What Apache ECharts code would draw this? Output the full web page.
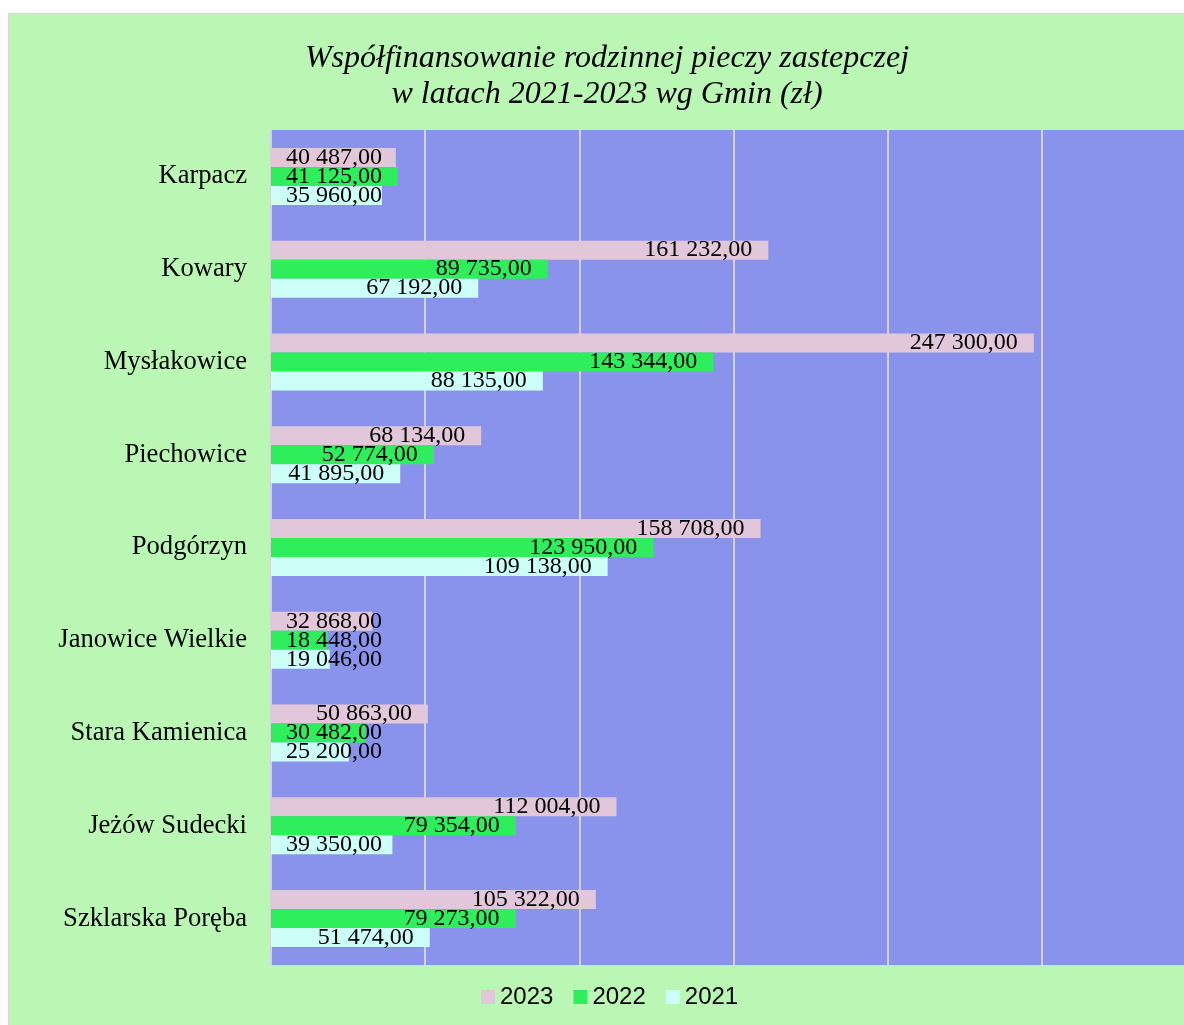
<!DOCTYPE html>
<html>
<head>
<meta charset="utf-8">
<script src="https://cdn.jsdelivr.net/npm/echarts@6/dist/echarts.min.js"></script>
<style>
  html, body { margin: 0; padding: 0; background: #fff; }
  #frame { position: absolute; left: 8px; top: 13px; width: 1180px; height: 1015px;
           background: #bbf7b4; border: 1px solid #d9d9d9; }
  #main { position: absolute; left: 0; top: 0; width: 1184px; height: 1025px; }
</style>
</head>
<body>
<div id="frame"></div>
<div id="main"></div>
<script>
// gminy, od gory
var gminy = ['Karpacz', 'Kowary', 'Mysłakowice', 'Piechowice', 'Podgórzyn',
    'Janowice Wielkie', 'Stara Kamienica', 'Jeżów Sudecki', 'Szklarska Poręba'];
var lata = ['2023', '2022', '2021'];
var v2023 = [40487, 161232, 247300, 68134, 158708, 32868, 50863, 112004, 105322];
var v2022 = [41125, 89735, 143344, 52774, 123950, 18448, 30482, 79354, 79273];
var v2021 = [35960, 67192, 88135, 41895, 109138, 19046, 25200, 39350, 51474];
var kolory = ['#e1c7d9', '#2fee5b', '#ccfff7'];

var labelFont = '24px "Liberation Serif"';

function fmt(v) {
    var s = String(Math.round(v)).replace(/\B(?=(\d{3})+(?!\d))/g, ' ');
    return s + ',00';
}

var ctx = document.createElement('canvas').getContext('2d');
ctx.font = labelFont;

// plot: 0 at x=271, 296 000 at the right edge (x=1184)
var xMax = 296000;
var pxPerUnit = (1184 - 271) / xMax;

// short bars: label starts at the bar base instead of ending at the bar tip
function buildData(arr) {
    return arr.map(function (v) {
        var w = ctx.measureText(fmt(v)).width;
        if (v * pxPerUnit < w + 31) {
            return { value: v, label: { position: 'insideLeft', distance: 15 } };
        }
        return v;
    });
}

var myChart = echarts.init(document.getElementById('main'));

var wartosci = [v2023, v2022, v2021];
var series = lata.map(function (rok, i) {
    return {
        name: rok,
        type: 'bar',
        data: buildData(wartosci[i]),
        barWidth: 19,
        barGap: '0%',
        itemStyle: { color: kolory[i] },
        label: {
            show: true,
            position: 'insideRight',
            distance: 16,
            color: '#000',
            fontFamily: 'Liberation Serif',
            fontSize: 24,
            formatter: function (p) { return fmt(p.value); }
        }
    };
});

var option = {
    animation: false,
    backgroundColor: 'transparent',
    title: {
        text: 'Współfinansowanie rodzinnej pieczy zastepczej\nw latach 2021-2023 wg Gmin (zł)',
        left: 602,
        top: 36,
        textAlign: 'center',
        textStyle: {
            fontFamily: 'Liberation Serif',
            fontStyle: 'italic',
            fontWeight: 'normal',
            fontSize: 32,
            lineHeight: 36,
            color: '#000'
        }
    },
    legend: {
        data: lata,
        left: 476,
        top: 980,
        icon: 'rect',
        itemWidth: 14,
        itemHeight: 14,
        itemGap: 20,
        textStyle: {
            fontFamily: 'Liberation Sans',
            fontSize: 24,
            color: '#000'
        }
    },
    grid: {
        left: 271,
        top: 130,
        right: 0,
        bottom: 60,
        show: true,
        backgroundColor: '#8a93ec',
        borderWidth: 0
    },
    xAxis: {
        type: 'value',
        min: 0,
        max: xMax,
        interval: 50000,
        axisLabel: { show: false },
        axisLine: { show: false },
        axisTick: { show: false },
        splitLine: {
            show: true,
            showMaxLine: false,
            lineStyle: { color: '#d4d4d8', width: 2 }
        }
    },
    yAxis: {
        type: 'category',
        data: gminy,
        inverse: true,
        axisTick: { show: false },
        axisLine: { show: false },
        axisLabel: {
            margin: 24,
            fontFamily: 'Liberation Serif',
            fontSize: 26.6,
            color: '#000'
        }
    },
    series: series
};

myChart.setOption(option);
</script>
</body>
</html>
